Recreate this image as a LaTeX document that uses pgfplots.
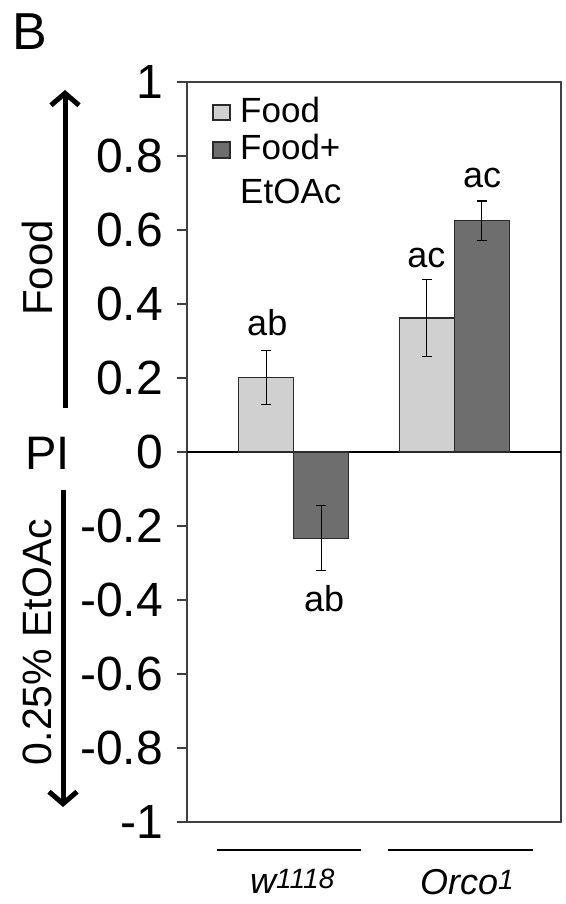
\documentclass[border=0pt]{standalone}
\usepackage{pgfplots}
\pgfplotsset{compat=1.18}
\usepackage{fontspec}
\setmainfont{Liberation Sans}
\usetikzlibrary{arrows.meta}
\definecolor{lightbar}{HTML}{D0D0D0}
\definecolor{darkbar}{HTML}{6E6E6E}
\definecolor{axisgray}{HTML}{404040}
\definecolor{edgegray}{HTML}{2A2A2A}
\begin{document}
\begin{tikzpicture}[x=1pt,y=1pt]
\useasboundingbox (0,0) rectangle (565,-904);
\begin{axis}[
  at={(187pt,-82pt)}, anchor=north west,
  scale only axis, width=374pt, height=740pt,
  xmin=-0.665, xmax=1.665, ymin=-1, ymax=1,
  xtick=\empty,
  ytick={-1,-0.8,-0.6,-0.4,-0.2,0,0.2,0.4,0.6,0.8,1},
  ytick pos=left, tick align=outside, major tick length=10pt,
  tick style={axisgray, line width=1.2pt},
  axis line style={axisgray, line width=1.2pt},
  /pgf/number format/assume math mode=true,
  yticklabel style={font=\fontsize{48}{48}\selectfont, inner sep=0pt, anchor=east, xshift=-14pt},
  ybar=0pt, bar width=55pt,
  clip=false,
  extra y ticks={0}, extra y tick labels={},
  extra y tick style={grid=major, major grid style={black, line width=1.2pt}},
]
\addplot[fill=lightbar, draw=edgegray, line width=1.2pt,
  error bars/.cd, y dir=both, y explicit,
  error bar style={black, line width=1.3pt},
  error mark options={rotate=90, mark size=5pt, line width=1.3pt, black}]
  coordinates {(0,0.202) +- (0,0.073) (1,0.362) +- (0,0.104)};
\addplot[fill=darkbar, draw=edgegray, line width=1.2pt,
  error bars/.cd, y dir=both, y explicit,
  error bar style={black, line width=1.3pt},
  error mark options={rotate=90, mark size=5pt, line width=1.3pt, black}]
  coordinates {(0,-0.233) +- (0,0.088) (1,0.625) +- (0,0.053)};
\begin{scope}[font=\fontsize{36}{36}\selectfont]
\node[anchor=base, inner sep=0pt] at (axis cs:-0.165,0.316) {ab};
\node[anchor=base, inner sep=0pt] at (axis cs:0.19,-0.432) {ab};
\node[anchor=base, inner sep=0pt] at (axis cs:0.826,0.499) {ac};
\node[anchor=base, inner sep=0pt] at (axis cs:1.174,0.715) {ac};
\end{scope}
\end{axis}
% panel letter and PI
\node[anchor=base west, inner sep=0pt, font=\fontsize{52}{52}\selectfont] at (12,-50) {B};
\node[anchor=base west, inner sep=0pt, font=\fontsize{47}{47}\selectfont] at (25,-469) {PI};
% arrows
\draw[line width=5pt, -{Straight Barb[length=12pt, width=28pt]}] (65,-408) -- (65,-90);
\draw[line width=5pt, -{Straight Barb[length=12pt, width=28pt]}] (63,-490) -- (63,-807);
\node[rotate=90, inner sep=0pt, font=\fontsize{42}{42}\selectfont] at (37,-268) {Food};
\node[rotate=90, inner sep=0pt, font=\fontsize{41}{41}\selectfont] at (37,-642) {0.25\% EtOAc};
% legend
\draw[fill=lightbar, draw=edgegray, line width=2pt] (213,-105) rectangle (230,-120);
\draw[fill=darkbar, draw=edgegray, line width=2pt] (213,-142) rectangle (230,-158);
\begin{scope}[font=\fontsize{35}{35}\selectfont]
\node[anchor=base west, inner sep=0pt] at (240,-123) {Food};
\node[anchor=base west, inner sep=0pt] at (240,-160) {Food+};
\node[anchor=base west, inner sep=0pt] at (240,-204) {EtOAc};
\end{scope}
% category lines and labels
\draw[line width=2pt] (217,-850) -- (361,-850);
\draw[line width=2pt] (388,-850) -- (533,-850);
\node[anchor=base west, inner sep=0pt, font=\fontsize{36}{36}\selectfont\itshape] at (250,-893) {w\raisebox{5pt}{\fontsize{28}{28}\selectfont 1118}};
\node[anchor=base west, inner sep=0pt, font=\fontsize{36}{36}\selectfont\itshape] at (420,-894) {Orco\raisebox{5pt}{\fontsize{28}{28}\selectfont 1}};
\end{tikzpicture}
\end{document}
